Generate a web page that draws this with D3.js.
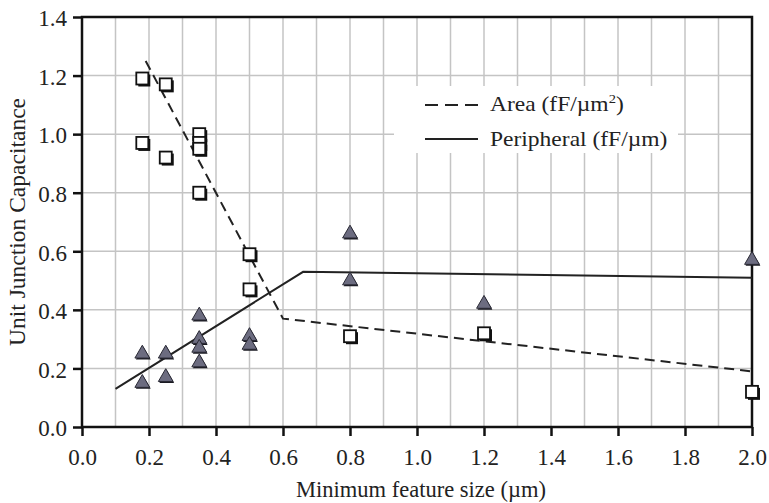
<!DOCTYPE html>
<html>
<head>
<meta charset="utf-8">
<script src="https://cdn.jsdelivr.net/npm/d3@7"></script>
<style>
  body { margin: 0; background: #fff; }
  svg text { font-family: "Liberation Serif", "Times New Roman", serif; fill: #222; }
</style>
</head>
<body>
<div id="chart"></div>
<script>
// measured points
const areaX = [0.18, 0.25, 0.18, 0.25, 0.35, 0.35, 0.35, 0.35, 0.5, 0.5, 0.8, 1.2, 2.0];
const areaY = [1.19, 1.17, 0.97, 0.92, 1.00, 0.97, 0.95, 0.80, 0.59, 0.47, 0.31, 0.32, 0.12];
const periX = [0.18, 0.18, 0.25, 0.25, 0.35, 0.35, 0.35, 0.35, 0.5, 0.5, 0.8, 0.8, 1.2, 2.0];
const periY = [0.25, 0.15, 0.25, 0.17, 0.38, 0.30, 0.27, 0.22, 0.31, 0.28, 0.66, 0.50, 0.42, 0.57];

// fitted lines
const areaFitX = [0.19, 0.6, 2.0];
const areaFitY = [1.25, 0.37, 0.19];
const periFitX = [0.1, 0.66, 2.0];
const periFitY = [0.13, 0.53, 0.51];

const xTicks = [0, 0.2, 0.4, 0.6, 0.8, 1.0, 1.2, 1.4, 1.6, 1.8, 2.0];
const xGrid = d3.range(1, 20).map(i => i / 10);
const yTicks = [0, 0.2, 0.4, 0.6, 0.8, 1.0, 1.2, 1.4];

const width = 769, height = 503;
const x = d3.scaleLinear().domain([0, 2]).range([82, 752]);
const y = d3.scaleLinear().domain([0, 1.4]).range([427, 17]);

const svg = d3.select("#chart").append("svg")
    .attr("width", width)
    .attr("height", height);

// grid
svg.append("g").selectAll("line").data(xGrid).enter().append("line")
    .attr("x1", d => x(d)).attr("x2", d => x(d))
    .attr("y1", y(0)).attr("y2", y(1.4))
    .attr("stroke", "#c4c4c4").attr("stroke-width", 1.5);
svg.append("g").selectAll("line").data(yTicks.slice(1, -1)).enter().append("line")
    .attr("x1", x(0)).attr("x2", x(2))
    .attr("y1", d => y(d)).attr("y2", d => y(d))
    .attr("stroke", "#c4c4c4").attr("stroke-width", 1.5);

// legend box (covers grid)
svg.append("rect")
    .attr("x", 394).attr("y", 86).attr("width", 284).attr("height", 67)
    .attr("fill", "#fff");

// axes
const xAxis = svg.append("g")
    .attr("transform", `translate(0,${y(0)})`)
    .call(d3.axisBottom(x).tickValues(xTicks).tickFormat(d3.format(".1f")).tickSize(9).tickPadding(13));
const yAxis = svg.append("g")
    .attr("transform", `translate(${x(0)},0)`)
    .call(d3.axisLeft(y).tickValues(yTicks).tickFormat(d3.format(".1f")).tickSize(9).tickPadding(6));

[xAxis, yAxis].forEach(g => {
    g.select(".domain").remove();
    g.selectAll(".tick line").attr("stroke", "#111").attr("stroke-width", 2.5);
    g.selectAll(".tick text")
        .attr("fill", "#222")
        .style("font-family", '"Liberation Serif", "Times New Roman", serif')
        .style("font-size", "23px");
});
yAxis.selectAll(".tick text").attr("dy", "0.38em");

// frame
svg.append("rect")
    .attr("x", x(0)).attr("y", y(1.4))
    .attr("width", x(2) - x(0)).attr("height", y(0) - y(1.4))
    .attr("fill", "none").attr("stroke", "#111").attr("stroke-width", 2.5);

// fit lines
const line = d3.line().x(d => x(d[0])).y(d => y(d[1]));
svg.append("path")
    .datum(d3.zip(areaFitX, areaFitY))
    .attr("d", line)
    .attr("fill", "none").attr("stroke", "#222").attr("stroke-width", 2)
    .attr("stroke-dasharray", "10,6");
svg.append("path")
    .datum(d3.zip(periFitX, periFitY))
    .attr("d", line)
    .attr("fill", "none").attr("stroke", "#222").attr("stroke-width", 2);

// square markers
const sq = 12;
const squares = svg.append("g").selectAll("g").data(d3.zip(areaX, areaY)).enter().append("g")
    .attr("transform", d => `translate(${x(d[0])},${y(d[1])})`);
squares.append("rect")
    .attr("x", -sq / 2 + 2).attr("y", -sq / 2 + 2).attr("width", sq).attr("height", sq)
    .attr("fill", "#111");
squares.append("rect")
    .attr("x", -sq / 2).attr("y", -sq / 2).attr("width", sq).attr("height", sq)
    .attr("fill", "#fff").attr("stroke", "#111").attr("stroke-width", 1.8);

// triangle markers
const tri = d3.symbol(d3.symbolTriangle, 95);
const tris = svg.append("g").selectAll("g").data(d3.zip(periX, periY)).enter().append("g")
    .attr("transform", d => `translate(${x(d[0])},${y(d[1])})`);
tris.append("path")
    .attr("d", tri)
    .attr("transform", "translate(1,1.5)")
    .attr("fill", "#1a1a22");
tris.append("path")
    .attr("d", tri)
    .attr("fill", "#6c6c80").attr("stroke", "#2a2a35").attr("stroke-width", 1);

// legend
const legend = svg.append("g");
legend.append("line")
    .attr("x1", 425).attr("x2", 478).attr("y1", 105).attr("y2", 105)
    .attr("stroke", "#222").attr("stroke-width", 2).attr("stroke-dasharray", "13,7");
legend.append("line")
    .attr("x1", 425).attr("x2", 478).attr("y1", 139).attr("y2", 139)
    .attr("stroke", "#222").attr("stroke-width", 2);
const lt = legend.append("g").attr("transform", "translate(490,0) scale(1.12,1)");
const t1 = lt.append("text").attr("x", 0).attr("y", 111).style("font-size", "21px");
t1.append("tspan").text("Area (fF/\u00b5m");
t1.append("tspan").attr("dy", -8).style("font-size", "13px").text("2");
t1.append("tspan").attr("dy", 8).text(")");
lt.append("text").attr("x", 0).attr("y", 146).style("font-size", "21px")
    .text("Peripheral (fF/\u00b5m)");

// axis titles
svg.append("text")
    .attr("x", 421).attr("y", 497)
    .attr("text-anchor", "middle")
    .style("font-size", "22.5px")
    .text("Minimum feature size (\u00b5m)");
svg.append("text")
    .attr("transform", "translate(25,222) rotate(-90)")
    .attr("text-anchor", "middle")
    .style("font-size", "23.5px")
    .text("Unit Junction Capacitance");
</script>
</body>
</html>
